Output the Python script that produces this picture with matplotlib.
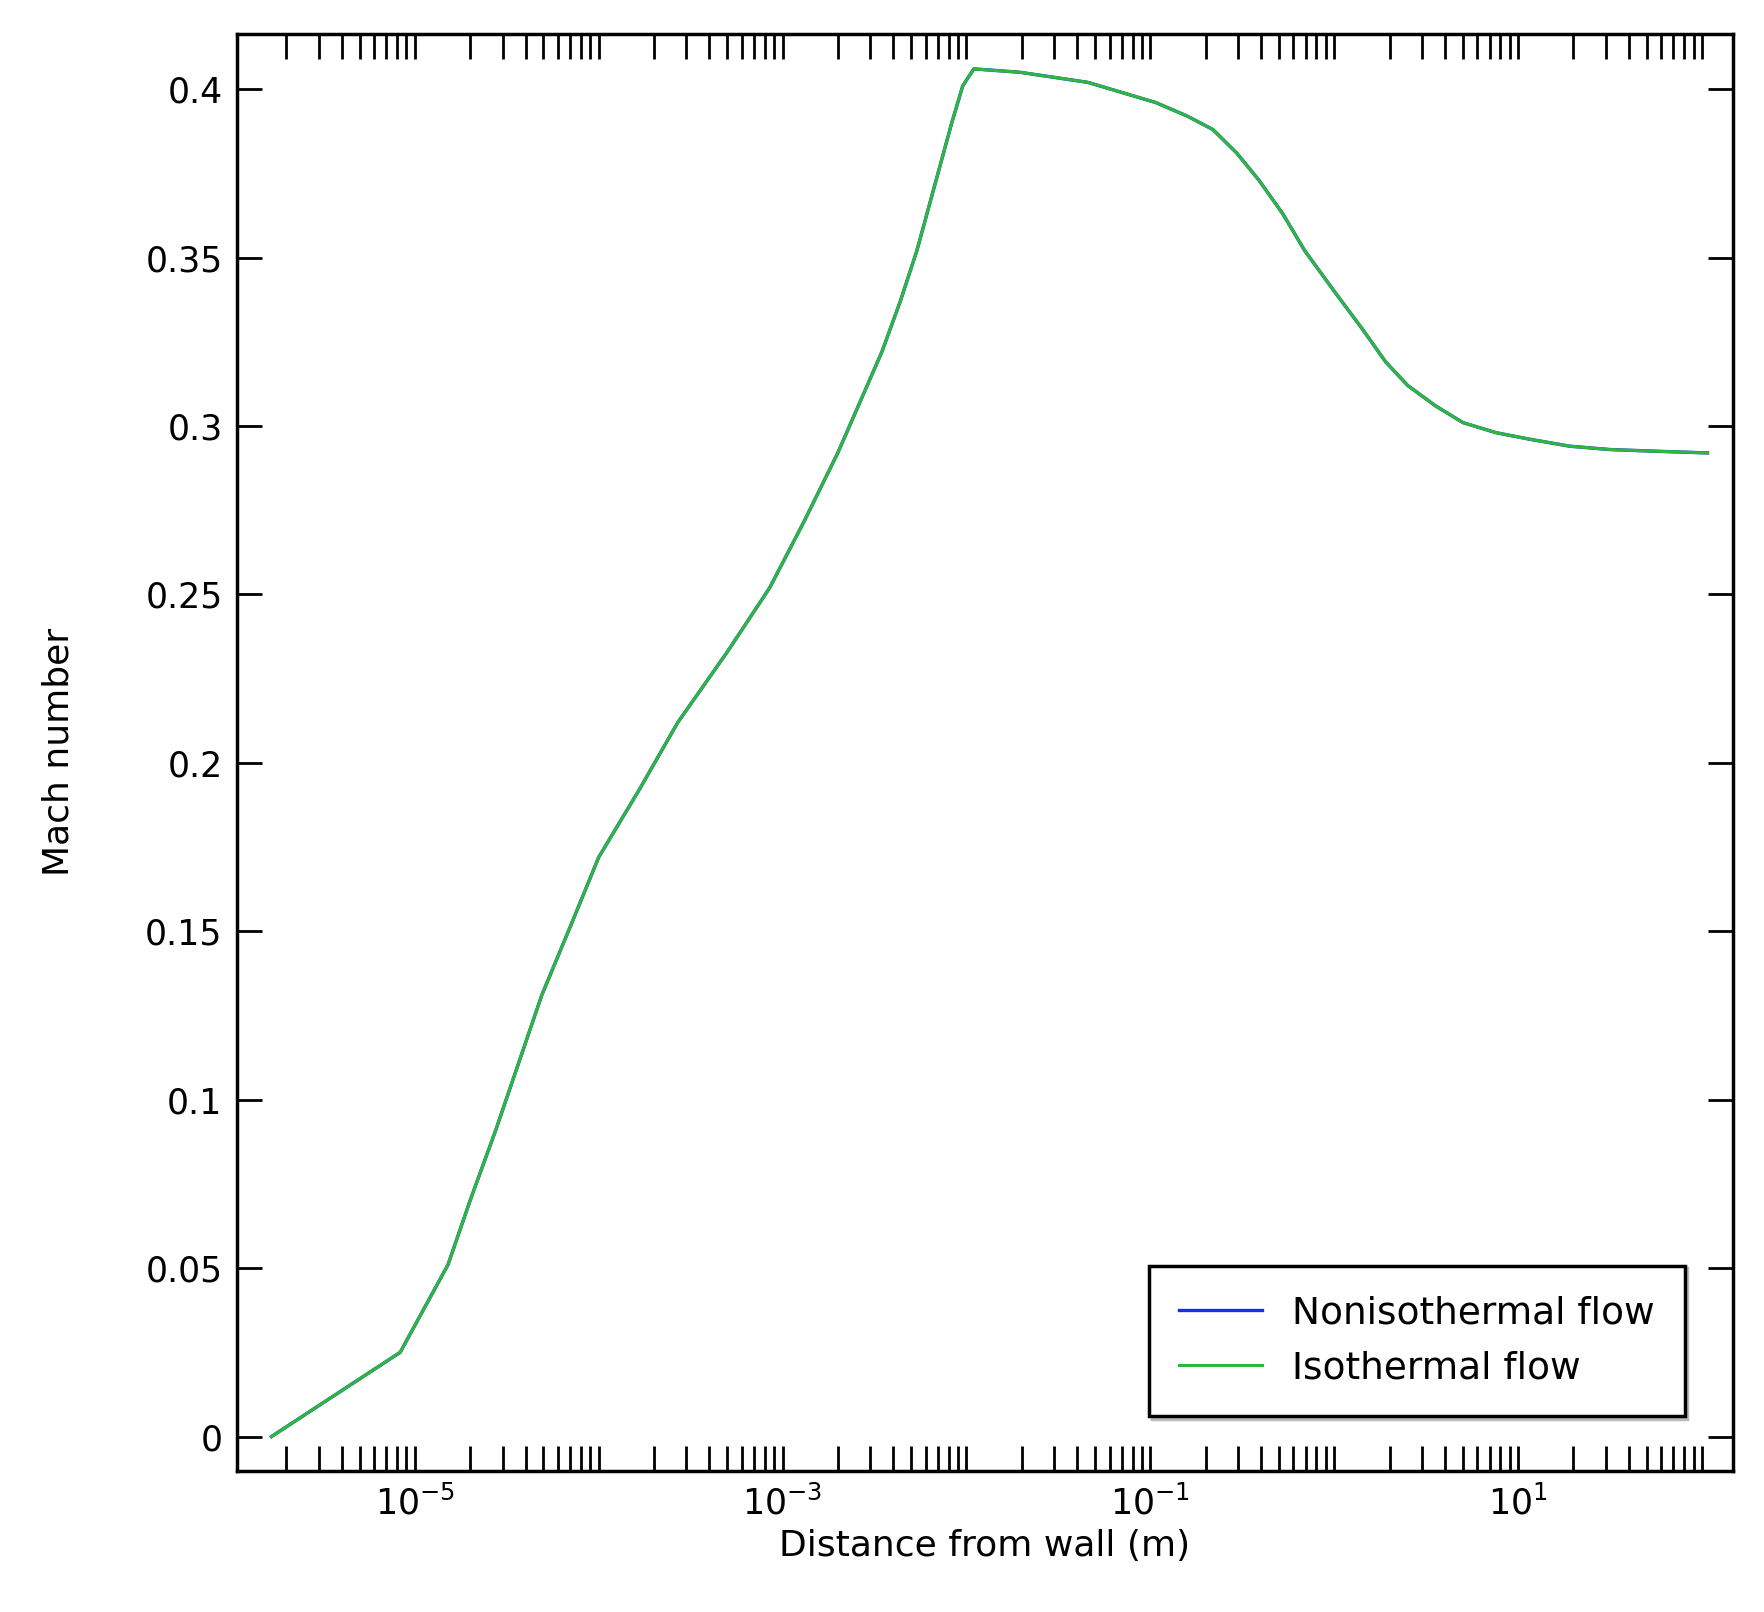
import numpy as np
import matplotlib
matplotlib.use("Agg")
import matplotlib.pyplot as plt
from matplotlib.ticker import LogLocator, NullFormatter, FixedLocator

log_x = [-5.78, -5.08, -4.82, -4.70, -4.56, -4.31, -4.15, -4.0, -3.78, -3.57, -3.30, -3.07,
         -2.88, -2.70, -2.58, -2.46, -2.36, -2.27, -2.17, -2.08, -2.02, -1.96,
         -1.71, -1.34, -0.97, -0.80, -0.66, -0.53, -0.41, -0.28, -0.16, 0.0, 0.15, 0.28,
         0.40, 0.55, 0.70, 0.88, 1.07, 1.28, 1.50, 1.75, 2.03]
mach_noniso = [0.0, 0.025, 0.051, 0.070, 0.091, 0.131, 0.152, 0.172, 0.192, 0.212, 0.233, 0.252,
               0.272, 0.292, 0.307, 0.322, 0.337, 0.352, 0.372, 0.390, 0.401, 0.406,
               0.405, 0.402, 0.396, 0.392, 0.388, 0.381, 0.373, 0.363, 0.352, 0.340, 0.329, 0.319,
               0.312, 0.306, 0.301, 0.298, 0.296, 0.294, 0.293, 0.2925, 0.292]
mach_iso = list(mach_noniso)
distance = [10 ** v for v in log_x]

fs = 25
fig = plt.figure(figsize=(17.65, 16.12), dpi=100)
ax = fig.add_axes([0.134, 0.0875, 0.848, 0.8915])
ax.plot(distance, mach_noniso, color="#1a2ee8", lw=2.4, label="Nonisothermal flow")
ax.plot(distance, mach_iso, color="#2db83d", lw=2.2, label="Isothermal flow")
ax.set_xscale("log")
ax.set_xlim(10 ** -5.97, 10 ** 2.17)
ax.set_ylim(-0.0102, 0.4164)
ax.xaxis.set_major_locator(FixedLocator([1e-5, 1e-3, 1e-1, 1e1]))
ax.xaxis.set_minor_locator(LogLocator(base=10, subs=np.arange(1, 10), numticks=50))
ax.xaxis.set_minor_formatter(NullFormatter())
ax.set_yticks([0, 0.05, 0.1, 0.15, 0.2, 0.25, 0.3, 0.35, 0.4])
ax.set_yticklabels(["0", "0.05", "0.1", "0.15", "0.2", "0.25", "0.3", "0.35", "0.4"])
ax.tick_params(which="both", direction="in", top=True, right=True, width=2, labelsize=fs, colors="black")
ax.tick_params(which="major", length=18, pad=10)
ax.tick_params(which="minor", length=18)
for s in ax.spines.values():
    s.set_linewidth(2.5)
ax.set_xlabel("Distance from wall (m)", fontsize=fs + 1, labelpad=6)
ax.set_ylabel("Mach number", fontsize=fs + 1, labelpad=50)
leg = ax.legend(loc="lower right", fontsize=fs + 2, fancybox=False, shadow={"color": "#bbbbbb", "alpha": 1},
                edgecolor="black", framealpha=1, borderpad=0.8, handlelength=2.2,
                bbox_to_anchor=(0.98, 0.025))
leg.get_frame().set_linewidth(2.5)
fig.savefig("out.png", dpi=100)
